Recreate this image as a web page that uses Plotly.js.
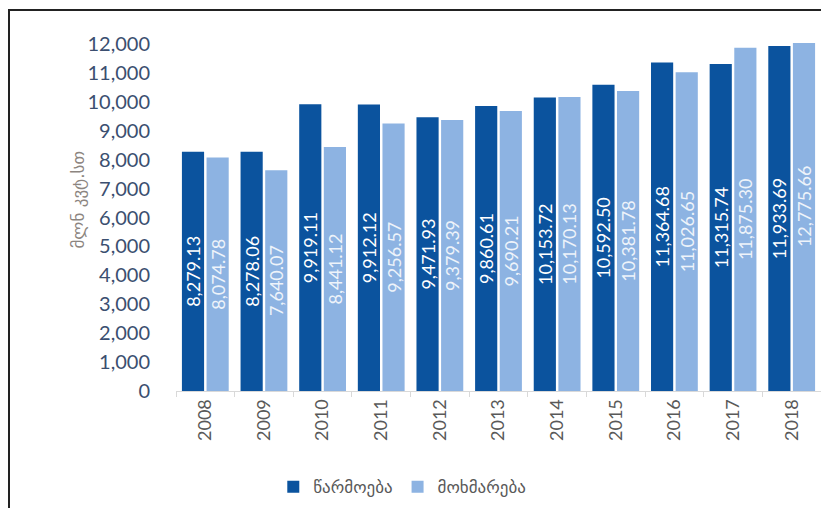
<!DOCTYPE html>
<html>
<head>
<meta charset="utf-8">
<script src="https://cdn.plot.ly/plotly-3.0.1.min.js"></script>
<style>
  body { margin: 0; background: #fff; }
  #frame { position: absolute; left: 8px; top: 9px; width: 813px; height: 499px;
           border-top: 2px solid #222; border-left: 2px solid #222; }
  #chart { position: absolute; left: 0; top: 0; width: 821px; height: 508px; }
</style>
</head>
<body>
<div id="chart"></div>
<div id="frame"></div>
<script>
// years on the x axis
var years = ['2008', '2009', '2010', '2011', '2012', '2013', '2014', '2015', '2016', '2017', '2018'];

// production / consumption, mln kWh
var production = [8279.13, 8278.06, 9919.11, 9912.12, 9471.93, 9860.61, 10153.72, 10592.50, 11364.68, 11315.74, 11933.69];
var consumption = [8074.78, 7640.07, 8441.12, 9256.57, 9379.39, 9690.21, 10170.13, 10381.78, 11026.65, 11875.30, 12775.66];

var yTicks = [0, 1000, 2000, 3000, 4000, 5000, 6000, 7000, 8000, 9000, 10000, 11000, 12000];

var fmt = function(v) {
	return v.toLocaleString('en-US', { minimumFractionDigits: 2, maximumFractionDigits: 2 });
};

var barFont = { family: 'Liberation Sans Narrow, Lato, DejaVu Sans', size: 18 };

var trace_prod = {
	x: years,
	y: production,
	type: 'bar',
	name: 'წარმოება',
	text: production.map(fmt),
	textposition: 'inside',
	insidetextanchor: 'middle',
	textangle: -90,
	constraintext: 'none',
	hoverinfo: 'none',
	insidetextfont: Object.assign({ color: '#ffffff' }, barFont),
	marker: { color: '#0b539e' }
};

var trace_cons = {
	x: years,
	y: consumption,
	type: 'bar',
	name: 'მოხმარება',
	text: consumption.map(fmt),
	textposition: 'inside',
	insidetextanchor: 'middle',
	textangle: -90,
	constraintext: 'none',
	hoverinfo: 'none',
	insidetextfont: Object.assign({ color: '#eef3fa' }, barFont),
	marker: { color: '#8db3e2' }
};

var layout = {
	width: 821,
	height: 508,
	margin: { l: 176, r: 0, t: 43, b: 117 },
	paper_bgcolor: '#ffffff',
	plot_bgcolor: '#ffffff',
	font: { family: 'Lato, DejaVu Sans', color: '#595959' },
	barmode: 'group',
	bargap: 0.16,
	bargroupgap: 0.1,
	showlegend: true,
	legend: {
		orientation: 'h',
		xref: 'container', yref: 'container',
		x: 0.49, xanchor: 'center',
		y: 0.041, yanchor: 'middle',
		font: { size: 17, color: '#595959', family: 'DejaVu Sans' },
		itemwidth: 30
	},
	xaxis: {
		type: 'category',
		tickangle: -90,
		tickfont: { size: 18, color: '#595959' },
		showline: true,
		linecolor: '#d9d9d9',
		ticks: 'outside',
		tickson: 'boundaries',
		ticklen: 5,
		tickcolor: '#d9d9d9',
		showgrid: false
	},
	yaxis: {
		range: [0, 12040],
		tickvals: yTicks,
		tickformat: ',d',
		tickfont: { size: 20, color: '#3b4f70' },
		ticklabelstandoff: 25,
		showgrid: false,
		zeroline: false,
		showline: false
	},
	annotations: [{
		text: 'მლნ კვტ.სთ',
		xref: 'paper', yref: 'paper',
		x: -0.152, y: 0.55,
		xanchor: 'center', yanchor: 'middle',
		textangle: -90,
		showarrow: false,
		font: { size: 17, color: '#8c8580', family: 'DejaVu Sans' }
	}]
};

Plotly.newPlot('chart', [trace_prod, trace_cons], layout, { staticPlot: true });
</script>
</body>
</html>
